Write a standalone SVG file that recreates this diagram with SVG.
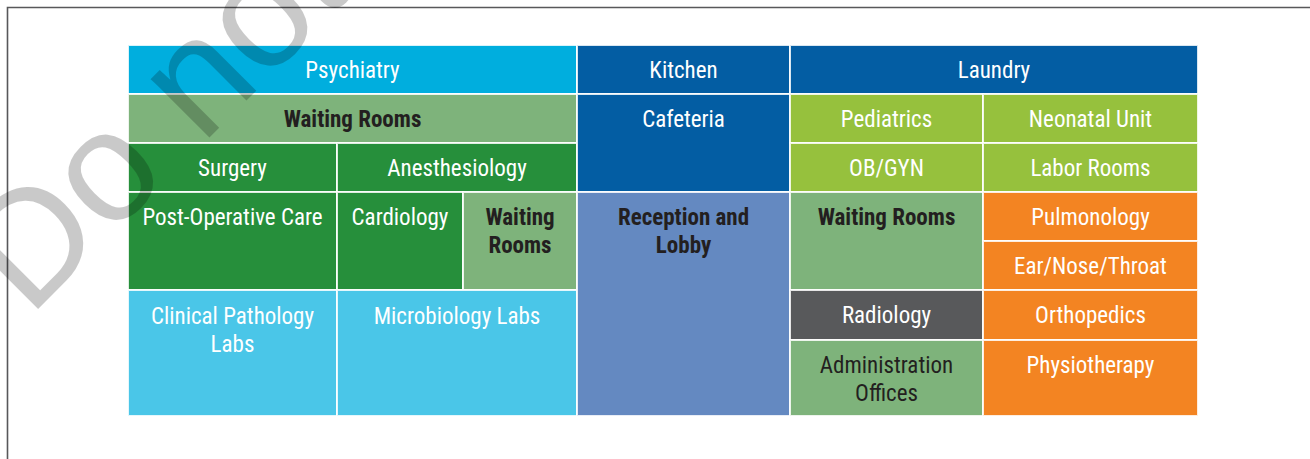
<svg xmlns="http://www.w3.org/2000/svg" width="1310" height="459" viewBox="0 0 1310 459">
  <style>
    .cell { stroke: #ffffff; stroke-width: 2; stroke-opacity: 0.85; }
    .psy { fill: #00aede; }
    .wait { fill: #7eb37b; }
    .surg { fill: #268f3b; }
    .lab { fill: #4ac6e8; }
    .navy { fill: #035da3; }
    .lobby { fill: #6489c1; }
    .lime { fill: #96c13d; }
    .orange { fill: #f38422; }
    .grey { fill: #58595b; }
    text { font-family: "Liberation Sans Narrow", "Roboto Condensed", "DejaVu Sans Condensed", sans-serif; font-size: 23px; text-anchor: middle; fill: #ffffff; }
    text.dark { fill: #231f20; }
    text.bold { font-weight: bold; }
    .mark { font-family: "Liberation Sans", Arial, sans-serif; font-size: 157px; text-anchor: start; fill: #000000; fill-opacity: 0.21; }
  </style>

  <!-- frame -->
  <path d="M7.5 459 V7.5 H1310" fill="none" stroke="#58585a" stroke-width="1.6"/>

  <!-- left wing -->
  <g id="psychiatry"><rect class="cell psy" x="128" y="45" width="449" height="49"/><text x="352.5" y="78">Psychiatry</text></g>
  <g id="waiting-rooms-1"><rect class="cell wait" x="128" y="94" width="449" height="49"/><text class="dark bold" x="352.5" y="127">Waiting Rooms</text></g>
  <g id="surgery"><rect class="cell surg" x="128" y="143" width="209" height="49"/><text x="232.5" y="176">Surgery</text></g>
  <g id="anesthesiology"><rect class="cell surg" x="337" y="143" width="240" height="49"/><text x="457" y="176">Anesthesiology</text></g>
  <g id="post-operative-care"><rect class="cell surg" x="128" y="192" width="209" height="98"/><text x="232.5" y="224.5">Post-Operative Care</text></g>
  <g id="cardiology"><rect class="cell surg" x="337" y="192" width="126" height="98"/><text x="400" y="224.5">Cardiology</text></g>
  <g id="waiting-rooms-2"><rect class="cell wait" x="463" y="192" width="114" height="98"/><text class="dark bold" x="520" y="224.5">Waiting</text><text class="dark bold" x="520" y="253">Rooms</text></g>
  <g id="clinical-pathology-labs"><rect class="cell lab" x="128" y="290" width="209" height="126"/><text x="232.5" y="323.5">Clinical Pathology</text><text x="232.5" y="352">Labs</text></g>
  <g id="microbiology-labs"><rect class="cell lab" x="337" y="290" width="240" height="126"/><text x="457" y="323.5">Microbiology Labs</text></g>

  <!-- centre -->
  <g id="kitchen"><rect class="cell navy" x="577" y="45" width="213" height="49"/><text x="683.5" y="78">Kitchen</text></g>
  <g id="cafeteria"><rect class="cell navy" x="577" y="94" width="213" height="98"/><text x="683.5" y="127">Cafeteria</text></g>
  <g id="reception-and-lobby"><rect class="cell lobby" x="577" y="192" width="213" height="224"/><text class="dark bold" x="683.5" y="224.5">Reception and</text><text class="dark bold" x="683.5" y="253">Lobby</text></g>

  <!-- right wing -->
  <g id="laundry"><rect class="cell navy" x="790" y="45" width="408" height="49"/><text x="994" y="78">Laundry</text></g>
  <g id="pediatrics"><rect class="cell lime" x="790" y="94" width="193" height="49"/><text x="886.5" y="127">Pediatrics</text></g>
  <g id="neonatal-unit"><rect class="cell lime" x="983" y="94" width="215" height="49"/><text x="1090.5" y="127">Neonatal Unit</text></g>
  <g id="ob-gyn"><rect class="cell lime" x="790" y="143" width="193" height="49"/><text x="886.5" y="176">OB/GYN</text></g>
  <g id="labor-rooms"><rect class="cell lime" x="983" y="143" width="215" height="49"/><text x="1090.5" y="176">Labor Rooms</text></g>
  <g id="waiting-rooms-3"><rect class="cell wait" x="790" y="192" width="193" height="98"/><text class="dark bold" x="886.5" y="224.5">Waiting Rooms</text></g>
  <g id="pulmonology"><rect class="cell orange" x="983" y="192" width="215" height="49"/><text x="1090.5" y="224.5">Pulmonology</text></g>
  <g id="ear-nose-throat"><rect class="cell orange" x="983" y="241" width="215" height="49"/><text x="1090.5" y="273.5">Ear/Nose/Throat</text></g>
  <g id="radiology"><rect class="cell grey" x="790" y="290" width="193" height="50"/><text x="886.5" y="323">Radiology</text></g>
  <g id="orthopedics"><rect class="cell orange" x="983" y="290" width="215" height="50"/><text x="1090.5" y="323">Orthopedics</text></g>
  <g id="administration-offices"><rect class="cell wait" x="790" y="340" width="193" height="76"/><text class="dark" x="886.5" y="372.5">Administration</text><text class="dark" x="886.5" y="401">Offices</text></g>
  <g id="physiotherapy"><rect class="cell orange" x="983" y="340" width="215" height="76"/><text x="1090.5" y="372.5">Physiotherapy</text></g>

  <!-- watermark -->
  <text class="mark" transform="translate(29 318) rotate(-45)">Do not</text>
</svg>
